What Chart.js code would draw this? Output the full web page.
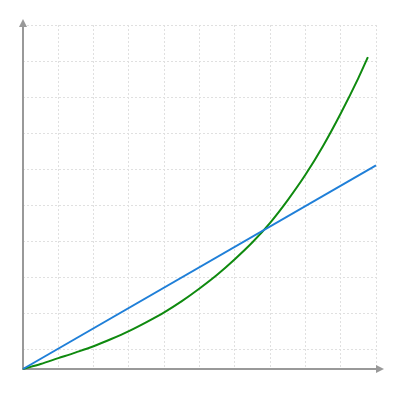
<!DOCTYPE html>
<html>
<head>
<meta charset="utf-8">
<script src="https://cdn.jsdelivr.net/npm/chart.js@4"></script>
<style>
html,body{margin:0;padding:0;background:#fff;}
#wrap{width:400px;height:400px;}
</style>
</head>
<body>
<div id="wrap"><canvas id="c" width="400" height="400"></canvas></div>
<script>
// Data
const linearX = [0, 10];
const linearY = [0, 5.64];
const curveX = [0, 0.5, 1, 1.5, 2, 2.5, 3, 3.5, 4, 4.5, 5, 5.5, 6, 6.5, 7, 7.5, 8, 8.5, 9, 9.5, 9.77];
const curveY = [0, 0.14, 0.3, 0.46, 0.63, 0.83, 1.05, 1.3, 1.57, 1.88, 2.23, 2.61, 3.04, 3.51, 4.05, 4.68, 5.38, 6.18, 7.08, 8.06, 8.64];
const xGridLines = [0, 1, 2, 3, 4, 5, 6, 7, 8, 9, 10];
const yGridLines = [0.53, 1.53, 2.53, 3.53, 4.53, 5.53, 6.53, 7.53, 8.53, 9.53];
const xMax = 10;
const yMax = 9.53;

const toPts = (xs, ys) => xs.map((x, i) => ({x: x, y: ys[i]}));

const axesPlugin = {
  id: 'axesArrows',
  beforeDatasetsDraw(chart) {
    const ctx = chart.ctx;
    const a = chart.chartArea;
    const ox = a.left, oy = a.bottom;
    ctx.save();
    ctx.strokeStyle = '#999999';
    ctx.fillStyle = '#999999';
    ctx.lineWidth = 2;
    // y axis
    ctx.beginPath();
    ctx.moveTo(ox, oy + 1);
    ctx.lineTo(ox, a.top - 1);
    ctx.stroke();
    ctx.beginPath();
    ctx.moveTo(ox, a.top - 6);
    ctx.lineTo(ox - 4, a.top + 2);
    ctx.lineTo(ox + 4, a.top + 2);
    ctx.closePath();
    ctx.fill();
    // x axis
    ctx.beginPath();
    ctx.moveTo(ox - 1, oy);
    ctx.lineTo(a.right + 1, oy);
    ctx.stroke();
    ctx.beginPath();
    ctx.moveTo(a.right + 8, oy);
    ctx.lineTo(a.right, oy - 4);
    ctx.lineTo(a.right, oy + 4);
    ctx.closePath();
    ctx.fill();
    ctx.restore();
  }
};

new Chart(document.getElementById('c'), {
  type: 'line',
  data: {
    datasets: [
      {
        data: toPts(linearX, linearY),
        borderColor: '#1f7fd8',
        borderWidth: 2,
        pointRadius: 0,
        fill: false,
        clip: false
      },
      {
        data: toPts(curveX, curveY),
        borderColor: '#0f8a0f',
        borderWidth: 2,
        pointRadius: 0,
        fill: false,
        cubicInterpolationMode: 'monotone',
        clip: false
      }
    ]
  },
  options: {
    responsive: false,
    animation: false,
    events: [],
    layout: { padding: { left: 23, right: 24, top: 25, bottom: 31 } },
    plugins: { legend: { display: false }, tooltip: { enabled: false } },
    scales: {
      x: {
        type: 'linear',
        min: 0,
        max: xMax,
        afterBuildTicks(scale) { scale.ticks = xGridLines.map(v => ({value: v})); },
        ticks: { display: false },
        grid: { color: '#e0e0e0', lineWidth: 1, drawTicks: false },
        border: { display: false, dash: [2, 2] }
      },
      y: {
        type: 'linear',
        min: 0,
        max: yMax,
        afterBuildTicks(scale) { scale.ticks = yGridLines.map(v => ({value: v})); },
        ticks: { display: false },
        grid: { color: '#e0e0e0', lineWidth: 1, drawTicks: false },
        border: { display: false, dash: [2, 2] }
      }
    }
  },
  plugins: [axesPlugin]
});
</script>
</body>
</html>
